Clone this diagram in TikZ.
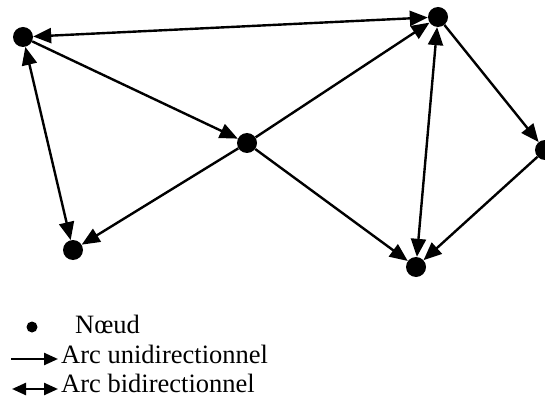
\documentclass[tikz,border=0pt]{standalone}
\usepackage{fontspec}
\setmainfont{Liberation Serif}
\usetikzlibrary{arrows.meta}
\tikzset{
  noeud/.style={circle,fill=black,inner sep=0pt,minimum size=20pt},
  uniarc/.style={line width=2.4pt,-{Triangle[length=18pt,width=15pt]}},
  biarc/.style={line width=2.4pt,{Triangle[length=18pt,width=15pt]}-{Triangle[length=18pt,width=15pt]}},
  legende/.style={anchor=base west,inner sep=0pt,font=\fontsize{26.5}{30}\selectfont}
}

\begin{document}
\begin{tikzpicture}[x=1pt,y=-1pt]
\useasboundingbox
  (0,0) rectangle (545,403);
\node[noeud] (A) at (23,37) {};
\node[noeud] (B) at (73,250) {};
\node[noeud] (C) at (247,143) {};
\node[noeud] (D) at (438,17) {};
\node[noeud] (E) at (416,267) {};
\node[noeud] (F) at (545,150) {};
\draw[biarc]
  (A) -- (D);
\draw[biarc]
  (A) -- (B);
\draw[biarc]
  (D) -- (E);
\draw[uniarc]
  (A) -- (C);
\draw[uniarc]
  (C) -- (B);
\draw[uniarc]
  (C) -- (D);
\draw[uniarc]
  (C) -- (E);
\draw[uniarc]
  (D) -- (F);
\draw[uniarc]
  (F) -- (E);

\node[circle,fill=black,inner sep=0pt,minimum size=11pt] (pt) at (32,327) {};
\node[legende] (tn) at (75,333) {Nœud};
\node[legende] (tu) at (61,363) {Arc unidirectionnel};
\node[legende] (tb) at (61,392) {Arc bidirectionnel};
\coordinate (u1) at (11,359);
\coordinate (u2) at (58,359);
\coordinate (b1) at (12,389);
\coordinate (b2) at (58,389);
\draw[line width=2.4pt,-{Triangle[length=14pt,width=12pt]}]
  (u1) -- (u2);
\draw[line width=2.4pt,{Triangle[length=14pt,width=12pt]}-{Triangle[length=14pt,width=12pt]}]
  (b1) -- (b2);
\end{tikzpicture}
\end{document}
